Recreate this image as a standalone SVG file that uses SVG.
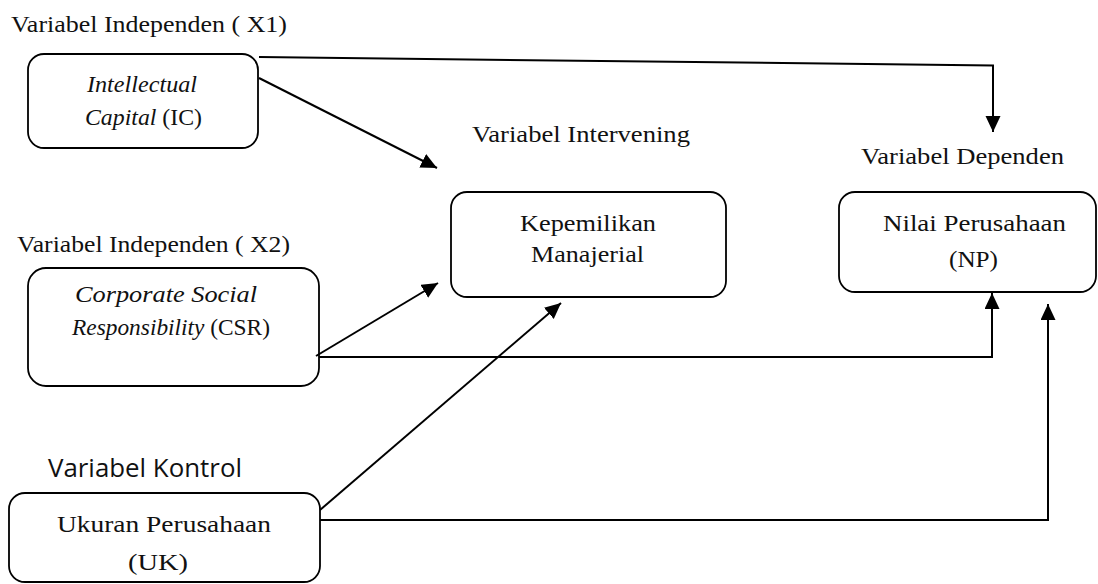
<svg xmlns="http://www.w3.org/2000/svg" width="1098" height="584" viewBox="0 0 1098 584">
<style>
.box{fill:#fff;stroke:#000;stroke-width:1.8}
.t{font-family:"Liberation Serif","Times New Roman",serif;font-size:24px;fill:#111}
.s{font-family:"Open Sans","Liberation Sans",sans-serif;font-size:25px;fill:#111}
.i{font-style:italic}
.c{fill:none;stroke:#000;stroke-width:2}
</style>
<defs>
<marker id="ah" markerUnits="userSpaceOnUse" markerWidth="18" markerHeight="18" refX="16" refY="7.5" orient="auto">
<path d="M0,0 L16,7.5 L0,15 z" fill="#000"/>
</marker>
</defs>
<rect width="1098" height="584" fill="#fff"/>

<g id="labels">
<text class="t" x="11" y="32" textLength="276" lengthAdjust="spacingAndGlyphs">Variabel Independen ( X1)</text>
<text class="t" x="472" y="142" textLength="218" lengthAdjust="spacingAndGlyphs">Variabel Intervening</text>
<text class="t" x="861" y="164" textLength="203" lengthAdjust="spacingAndGlyphs">Variabel Dependen</text>
<text class="t" x="17" y="252" textLength="273" lengthAdjust="spacingAndGlyphs">Variabel Independen ( X2)</text>
<text class="s" x="48" y="477" textLength="194" lengthAdjust="spacingAndGlyphs">Variabel Kontrol</text>
</g>

<g id="ic">
<rect class="box" x="28" y="54" width="230" height="94" rx="16"/>
<text class="t i" x="87" y="92" textLength="110" lengthAdjust="spacingAndGlyphs">Intellectual</text>
<text class="t" x="85" y="125" textLength="117" lengthAdjust="spacingAndGlyphs"><tspan class="i">Capital</tspan> (IC)</text>
</g>

<g id="km">
<rect class="box" x="451" y="192" width="275" height="105" rx="16"/>
<text class="t" x="520" y="231" textLength="136" lengthAdjust="spacingAndGlyphs">Kepemilikan</text>
<text class="t" x="531" y="262" textLength="113" lengthAdjust="spacingAndGlyphs">Manajerial</text>
</g>

<g id="np">
<rect class="box" x="839" y="192" width="257" height="100" rx="16"/>
<text class="t" x="883" y="231" textLength="183" lengthAdjust="spacingAndGlyphs">Nilai Perusahaan</text>
<text class="t" x="949" y="267" textLength="49" lengthAdjust="spacingAndGlyphs">(NP)</text>
</g>

<g id="csr">
<rect class="box" x="28" y="268" width="291" height="118" rx="18"/>
<text class="t i" x="75" y="302" textLength="182" lengthAdjust="spacingAndGlyphs">Corporate Social</text>
<text class="t" x="72" y="335" textLength="198" lengthAdjust="spacingAndGlyphs"><tspan class="i">Responsibility</tspan> (CSR)</text>
</g>

<g id="uk">
<rect class="box" x="9" y="493" width="311" height="89" rx="16"/>
<text class="t" x="57" y="532" textLength="214" lengthAdjust="spacingAndGlyphs">Ukuran Perusahaan</text>
<text class="t" x="128" y="570" textLength="60" lengthAdjust="spacingAndGlyphs">(UK)</text>
</g>

<g id="connectors">
<polyline class="c" points="259,57 993,65.5 993,132" marker-end="url(#ah)"/>
<line class="c" x1="259" y1="78" x2="437" y2="168" marker-end="url(#ah)"/>
<line class="c" x1="316" y1="356" x2="438" y2="283" marker-end="url(#ah)"/>
<polyline class="c" points="319,357 992,357 992,293" marker-end="url(#ah)"/>
<line class="c" x1="320" y1="510" x2="561" y2="303" marker-end="url(#ah)"/>
<polyline class="c" points="320,520 1048,520 1048,304" marker-end="url(#ah)"/>
</g>
</svg>
